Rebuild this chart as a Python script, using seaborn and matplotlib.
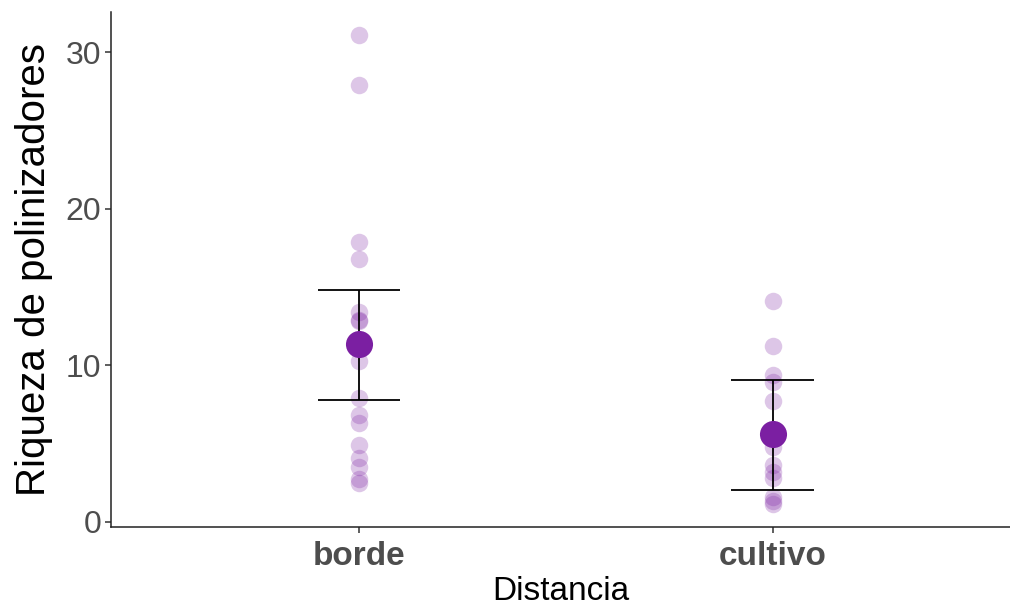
import matplotlib
matplotlib.use("Agg")
import matplotlib.pyplot as plt
import seaborn as sns
import pandas as pd

# Pollinator richness per sampling site, by distance class
borde = [31.1, 27.9, 17.9, 16.8, 13.4, 12.9, 12.8, 10.3, 7.9, 6.8, 6.3,
         4.9, 4.1, 3.5, 2.7, 2.5]
cultivo = [14.1, 11.2, 9.4, 8.9, 7.7, 4.8, 3.6, 3.2, 2.8, 1.6, 1.3, 1.1]

categories = ["borde", "cultivo"]
group_mean = [11.35, 5.6]
group_lower = [7.8, 2.0]
group_upper = [14.8, 9.07]

purple = "#7B1FA2"

points = pd.DataFrame({
    "Distancia": ["borde"] * len(borde) + ["cultivo"] * len(cultivo),
    "Riqueza": borde + cultivo,
})
summary = pd.DataFrame({
    "Distancia": categories,
    "media": group_mean,
    "inf": group_lower,
    "sup": group_upper,
})

sns.set_theme(style="ticks")
plt.rcParams["font.family"] = ["Liberation Sans", "DejaVu Sans"]

fig = plt.figure(figsize=(10.10, 6.08), dpi=100)
ax = fig.add_axes([0.1099, 0.1327, 0.8901, 0.8481])

sns.stripplot(data=points, x="Distancia", y="Riqueza", order=categories,
              jitter=False, color=purple, alpha=0.25, size=12.6,
              linewidth=0, ax=ax, zorder=1)

# error bars: vertical segment plus horizontal caps
pos = range(len(categories))
ax.vlines(list(pos), summary["inf"], summary["sup"], color="black",
          linewidth=1.3, zorder=2)
for p, lo, hi in zip(pos, summary["inf"], summary["sup"]):
    ax.hlines([lo, hi], p - 0.1, p + 0.1, color="black", linewidth=1.3,
              zorder=2)

sns.stripplot(data=summary, x="Distancia", y="media", order=categories,
              jitter=False, color=purple, size=19.5, linewidth=0, ax=ax,
              zorder=3)

ax.set_xlim(-0.5995, 1.5736)
ax.set_ylim(-0.36, 32.6)
ax.set_yticks([0, 10, 20, 30])

sns.despine(ax=ax)
for side in ("left", "bottom"):
    ax.spines[side].set_linewidth(1.1)
    ax.spines[side].set_color("#222222")

ax.tick_params(axis="both", length=4, width=1.1, color="#333333",
               labelcolor="#4D4D4D", labelsize=23, pad=3)
ax.tick_params(axis="x", labelsize=24, pad=6)
for lab in ax.get_xticklabels():
    lab.set_fontweight("bold")

ax.set_xlabel("Distancia", fontsize=24, color="black", labelpad=3)
ax.set_ylabel("Riqueza de polinizadores", fontsize=29, color="black",
              labelpad=9)

fig.savefig("out.png", dpi=100)
